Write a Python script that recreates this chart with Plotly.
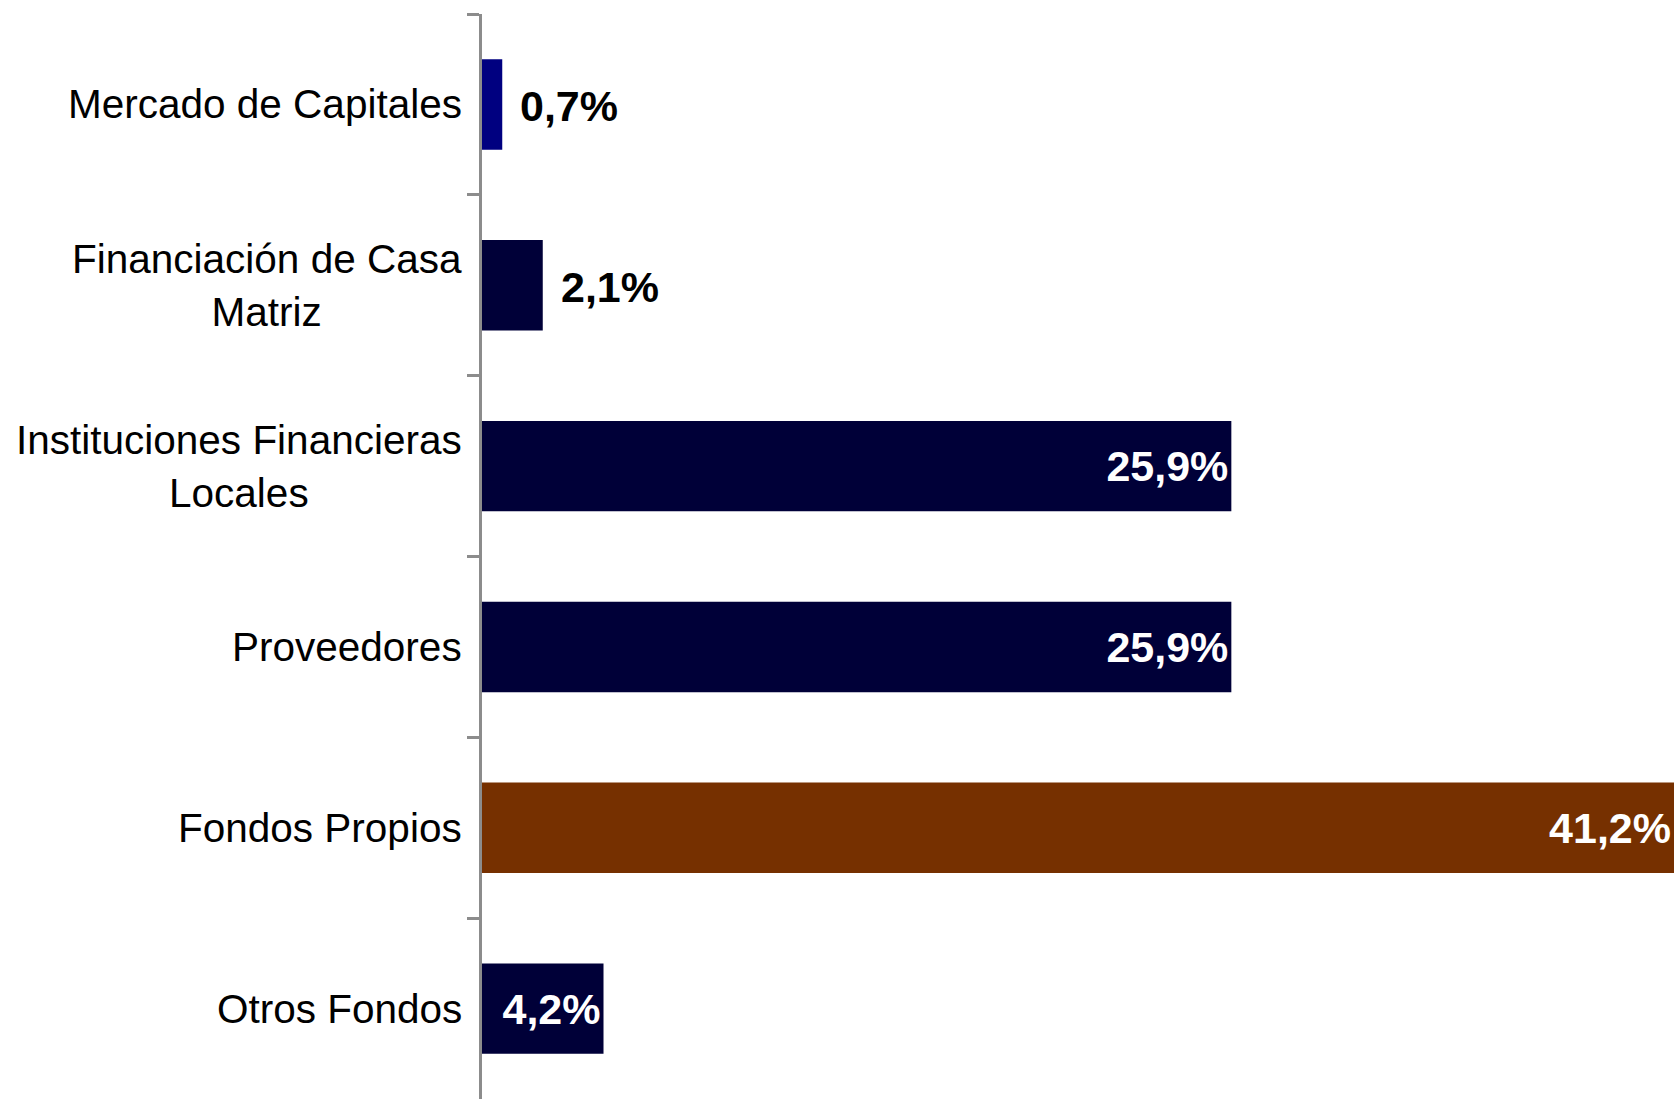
import plotly.graph_objects as go

# Funding sources (share of total, %)
categories = [
    "Mercado de Capitales",
    "Financiación de Casa Matriz",
    "Instituciones Financieras Locales",
    "Proveedores",
    "Fondos Propios",
    "Otros Fondos",
]
label_lines = [
    "Mercado de Capitales",
    "Financiación de Casa<br>Matriz",
    "Instituciones Financieras<br>Locales",
    "Proveedores",
    "Fondos Propios",
    "Otros Fondos",
]
shares = [0.7, 2.1, 25.9, 25.9, 41.2, 4.2]
bar_colors = ["#000080", "#000038", "#000038", "#000038", "#763000", "#000038"]

FONT = "Arial"
INSIDE_MIN = 3.0  # bars shorter than this get their label outside


def fmt(v):
    return f"{v:.1f}".replace(".", ",") + "%"


inside_text = [fmt(v) if v >= INSIDE_MIN else "" for v in shares]

fig = go.Figure(
    go.Bar(
        x=shares,
        y=categories,
        orientation="h",
        marker=dict(color=bar_colors, line=dict(width=0)),
        width=0.5,
        text=inside_text,
        textposition="inside",
        insidetextanchor="end",
        textfont=dict(family=FONT, size=43, color="white", weight="bold"),
        hoverinfo="skip",
    )
)

annotations = []
# category labels, centred line by line and right-aligned next to the axis
for cat, lab in zip(categories, label_lines):
    annotations.append(
        dict(
            x=0, xref="paper", y=cat, yref="y",
            text=lab, showarrow=False,
            xanchor="right", yanchor="middle", align="center",
            xshift=-18,
            font=dict(family=FONT, size=40.5, color="black"),
        )
    )
# value labels for short bars, placed just past the bar end
for cat, v in zip(categories, shares):
    if v < INSIDE_MIN:
        annotations.append(
            dict(
                x=v, xref="x", y=cat, yref="y",
                text=f"<b>{fmt(v)}</b>", showarrow=False,
                xanchor="left", yanchor="middle", xshift=16, yshift=-2,
                font=dict(family=FONT, size=43, color="black"),
            )
        )

fig.update_layout(
    width=1674,
    height=1099,
    margin=dict(l=482, r=0, t=14, b=0),
    paper_bgcolor="white",
    plot_bgcolor="white",
    showlegend=False,
    annotations=annotations,
    xaxis=dict(
        range=[0, max(shares)],
        visible=False,
        fixedrange=True,
    ),
    yaxis=dict(
        autorange="reversed",
        showticklabels=False,
        showgrid=False,
        zeroline=False,
        showline=True,
        linecolor="#8c8c8c",
        linewidth=3,
        ticks="outside",
        tickson="boundaries",
        ticklen=12,
        tickwidth=3,
        tickcolor="#8c8c8c",
        fixedrange=True,
    ),
)

fig.write_html("out.html", config={"displayModeBar": False})
